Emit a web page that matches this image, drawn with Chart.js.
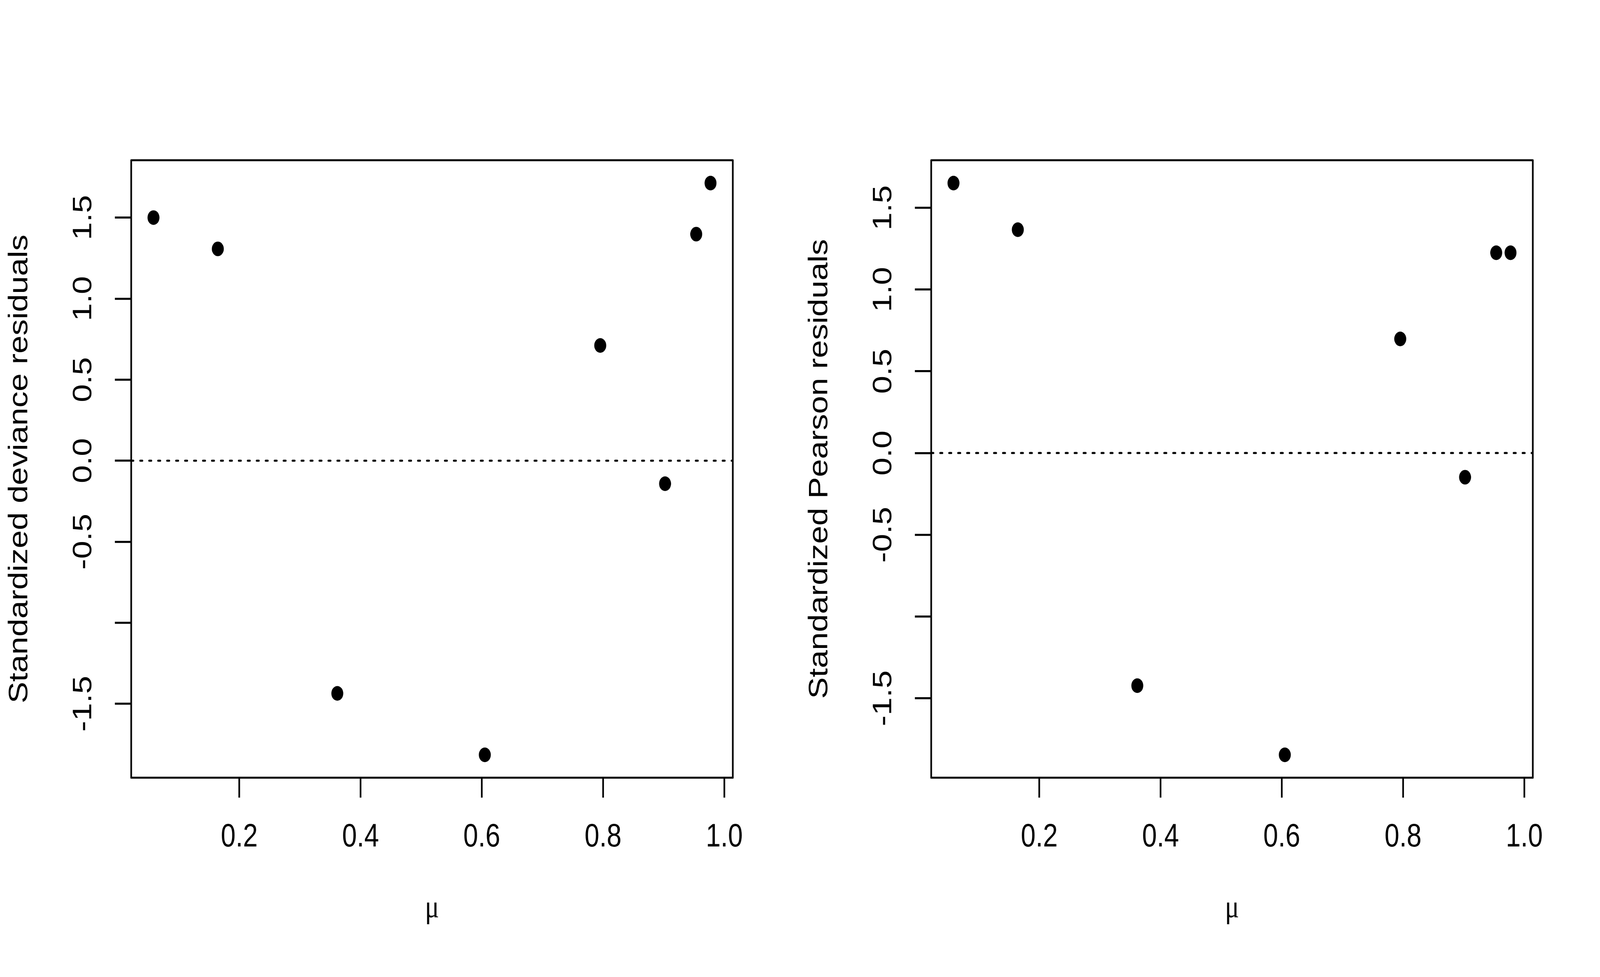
<!DOCTYPE html>
<html>
<head>
<meta charset="utf-8">
<script src="https://cdn.jsdelivr.net/npm/chart.js@4.4.1/dist/chart.umd.min.js"></script>
<style>
  html, body { margin: 0; padding: 0; background: #fff; overflow: hidden; }
  #wrap { display: flex; }
  canvas { display: block; }
</style>
</head>
<body>
<div id="wrap">
  <div id="p1"><canvas id="c1" width="2500" height="2500"></canvas></div>
  <div id="p2"><canvas id="c2" width="2500" height="2500"></canvas></div>
</div>
<script>
// ---- data ----
const mu = [0.0585, 0.1646, 0.3617, 0.605, 0.7954, 0.9023, 0.9537, 0.9773];
const devianceResiduals = [1.500, 1.307, -1.436, -1.815, 0.711, -0.142, 1.398, 1.713];
const pearsonResiduals = [1.651, 1.366, -1.423, -1.846, 0.698, -0.148, 1.225, 1.225];

const xTickValues = [0.2, 0.4, 0.6, 0.8, 1.0];
const xTickLabels = ['0.2', '0.4', '0.6', '0.8', '1.0'];
const yTickValues = [-1.5, -1.0, -0.5, 0.0, 0.5, 1.0, 1.5];
const yTickLabels = ['-1.5', '', '-0.5', '0.0', '0.5', '1.0', '1.5'];

const xTitle = 'μ';
const yTitleLeft = 'Standardized deviance residuals';
const yTitleRight = 'Standardized Pearson residuals';

// ---- helpers ----
function rLim(arr) {
  const lo = Math.min(...arr), hi = Math.max(...arr);
  const r = hi - lo;
  return [lo - 0.04 * r, hi + 0.04 * r];
}

// The chart is laid out on a 5000x2500 design grid; the canvases are
// displayed stretched to fill whatever viewport the browser really has.
const VW = window.innerWidth || 5000;
const VH = window.innerHeight || 2500;
const sx = VW / 5000, sy = VH / 2500;

Chart.defaults.font.family = "'Liberation Sans', Arial, sans-serif";
Chart.defaults.color = '#000';

const LW = 5.2;
const FONT = 83;

const boxPlugin = {
  id: 'rbox',
  afterDraw(chart) {
    const a = chart.chartArea;
    const ctx = chart.ctx;
    ctx.save();
    ctx.strokeStyle = '#000';
    ctx.lineWidth = LW;
    ctx.lineJoin = 'round';
    ctx.strokeRect(a.left, a.top, a.right - a.left, a.bottom - a.top);
    ctx.restore();
  }
};

function makeChart(id, yVals, yTitle) {
  const xl = rLim(mu);
  const yl = rLim(yVals);
  const pts = mu.map((x, i) => ({ x: x, y: yVals[i] }));
  const cv = document.getElementById(id);
  cv.style.width = (2500 * sx) + 'px';
  cv.style.height = (2500 * sy) + 'px';
  cv.parentElement.style.width = (2500 * sx) + 'px';
  cv.parentElement.style.height = (2500 * sy) + 'px';
  return new Chart(cv, {
    type: 'scatter',
    data: {
      datasets: [
        {
          data: pts,
          pointRadius: 18.7,
          pointBackgroundColor: '#000',
          pointBorderWidth: 0,
          showLine: false
        },
        {
          data: [{ x: xl[0], y: 0 }, { x: xl[1], y: 0 }],
          showLine: true,
          pointRadius: 0,
          borderColor: '#000',
          borderWidth: LW,
          borderDash: [7, 21],
          borderCapStyle: 'round'
        }
      ]
    },
    options: {
      responsive: false,
      devicePixelRatio: 1,
      animation: false,
      events: [],
      layout: { padding: { top: 410, right: 210, left: 0, bottom: 0 } },
      plugins: { legend: { display: false }, tooltip: { enabled: false } },
      scales: {
        x: {
          type: 'linear',
          min: xl[0],
          max: xl[1],
          afterFit: s => { s.height = 510; },
          afterBuildTicks: s => { s.ticks = xTickValues.map(v => ({ value: v })); },
          border: { display: false },
          grid: {
            drawOnChartArea: false,
            drawTicks: true,
            tickLength: 51,
            tickWidth: LW,
            tickColor: '#000',
            lineWidth: LW
          },
          ticks: {
            autoSkip: false,
            maxRotation: 0,
            minRotation: 0,
            padding: 52,
            font: { size: FONT },
            color: '#000',
            callback: v => {
              const i = xTickValues.findIndex(t => Math.abs(t - v) < 1e-9);
              return i >= 0 ? xTickLabels[i] : '';
            }
          },
          title: {
            display: true,
            text: xTitle,
            color: '#000',
            font: { size: FONT, family: "'Liberation Serif', 'DejaVu Serif', serif" },
            padding: { top: 0, bottom: 125 }
          }
        },
        y: {
          type: 'linear',
          min: yl[0],
          max: yl[1],
          afterFit: s => { s.width = 410; },
          afterBuildTicks: s => { s.ticks = yTickValues.map(v => ({ value: v })); },
          border: { display: false },
          grid: {
            drawOnChartArea: false,
            drawTicks: true,
            tickLength: 51,
            tickWidth: LW,
            tickColor: '#000',
            lineWidth: LW
          },
          ticks: {
            autoSkip: false,
            minRotation: 90,
            maxRotation: 90,
            crossAlign: 'center',
            padding: 25.5,
            font: { size: FONT },
            color: '#000',
            callback: v => {
              const i = yTickValues.findIndex(t => Math.abs(t - v) < 1e-9);
              return i >= 0 ? yTickLabels[i] : '';
            }
          },
          title: {
            display: true,
            text: yTitle,
            color: '#000',
            font: { size: FONT },
            padding: { top: 12, bottom: 0 }
          }
        }
      }
    },
    plugins: [boxPlugin]
  });
}

makeChart('c1', devianceResiduals, yTitleLeft);
makeChart('c2', pearsonResiduals, yTitleRight);
</script>
</body>
</html>
